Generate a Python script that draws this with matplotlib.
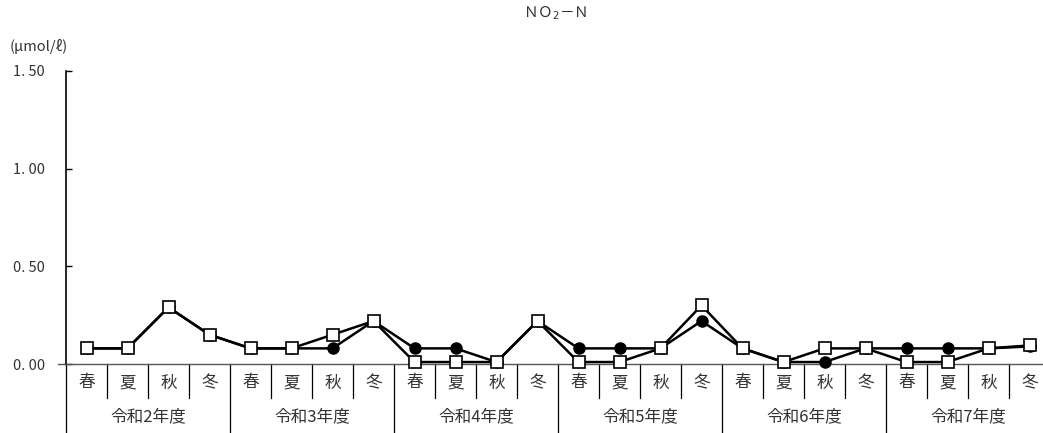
import numpy as np
import matplotlib.pyplot as plt
from matplotlib.transforms import blended_transform_factory

plt.rcParams['font.family'] = ['Noto Sans CJK JP', 'DejaVu Sans']

# categories
years = ["令和2年度", "令和3年度", "令和4年度", "令和5年度", "令和6年度", "令和7年度"]
seasons = ["春", "夏", "秋", "冬"]

# series values (umol/l), 24 points: spring..winter for each year
circle_vals = [0.08, 0.08, 0.29, 0.15,
               0.08, 0.08, 0.08, 0.22,
               0.08, 0.08, 0.01, 0.22,
               0.08, 0.08, 0.08, 0.22,
               0.08, 0.01, 0.01, 0.08,
               0.08, 0.08, 0.08, 0.09]
square_vals = [0.08, 0.08, 0.29, 0.15,
               0.08, 0.08, 0.15, 0.22,
               0.01, 0.01, 0.01, 0.22,
               0.01, 0.01, 0.08, 0.30,
               0.08, 0.01, 0.08, 0.08,
               0.01, 0.01, 0.08, 0.095]

yticks = [0.0, 0.5, 1.0, 1.5]
yticklabels = ["0. 00", "0. 50", "1. 00", "1. 50"]

fig = plt.figure(figsize=(10.43, 4.33), dpi=100)
ax = fig.add_axes([66/1043, 69/433, 984/1043, 293/433])

n = len(circle_vals)
x = np.arange(n)
ax.plot(x, circle_vals, color="black", lw=1.8, marker="o", ms=8,
        mfc="black", mec="black", zorder=3, clip_on=False)
ax.plot(x, square_vals, color="black", lw=1.8, marker="s", ms=9,
        mfc="white", mec="black", mew=1.2, zorder=4, clip_on=False)

ax.set_xlim(-0.5, n - 0.5)
ax.set_ylim(0, 1.5)
ax.set_yticks(yticks)
ax.set_yticklabels(yticklabels, fontsize=10.5, color="#333333")
ax.tick_params(axis="y", direction="in", length=4, pad=15, width=1)
ax.set_xticks([])
for s in ["top", "right"]:
    ax.spines[s].set_visible(False)
ax.spines["left"].set_linewidth(1.2)
ax.spines["bottom"].set_linewidth(1.0)
ax.spines["bottom"].set_color("#555555")

# category axis drawn below the plot
tr = blended_transform_factory(ax.transData, ax.transAxes)
ax.plot([-0.7, -0.5], [0, 0], transform=tr, color="#555555", lw=1.0,
        clip_on=False)
row1 = -34 / 293
row2 = -70 / 293
for i in range(n):
    ax.text(i, -19 / 293, seasons[i % 4], transform=tr, ha="center",
            va="center", fontsize=12, color="#333333")
for i in range(n + 1):
    xb = i - 0.5
    bottom = row2 if i % 4 == 0 else row1
    ax.plot([xb, xb], [0, bottom], transform=tr, color="black", lw=0.9,
            clip_on=False)
for j, yr in enumerate(years):
    ax.text(j * 4 + 1.5, -53 / 293, yr, transform=tr, ha="center",
            va="center", fontsize=12, color="#333333")

fig.text(555 / 1043, 1 - 13 / 433, "ＮＯ$_2$－Ｎ", ha="center", va="center",
         fontsize=10.5, color="#333333")
fig.text(10 / 1043, 1 - 47 / 433, "(μmol/ℓ)", ha="left", va="center",
         fontsize=10.5, color="#333333")

fig.savefig("out.png", dpi=100)
